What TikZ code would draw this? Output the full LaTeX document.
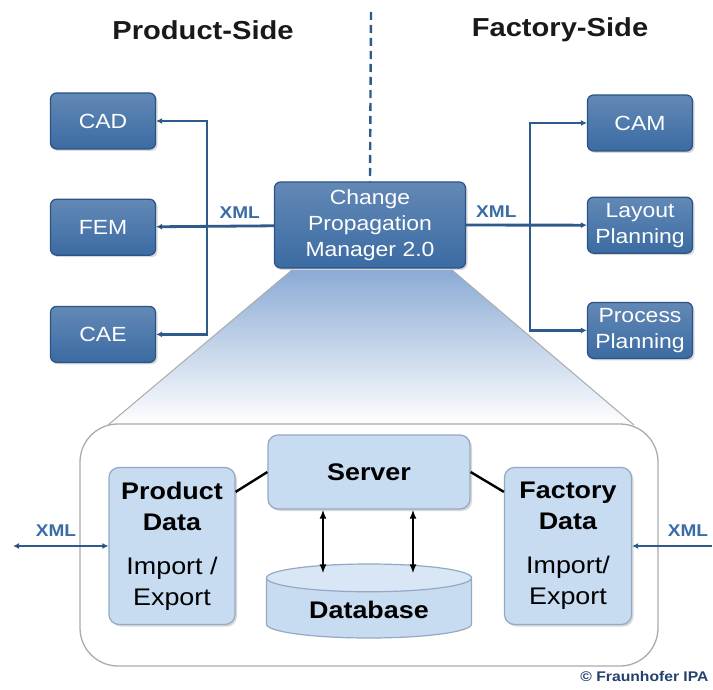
\documentclass[tikz,border=0pt]{standalone}
\usepackage{fontspec}
\setmainfont{Liberation Sans}[FakeStretch=1.12]
\usetikzlibrary{arrows.meta, positioning, shapes.geometric, shadows, calc}

\definecolor{toolblue}{HTML}{3B6BA3}
\definecolor{tooledge}{HTML}{2B5386}
\definecolor{wireblue}{HTML}{2E5A8C}
\definecolor{xmlblue}{HTML}{3A6CA6}
\definecolor{partblue}{HTML}{C7DBF1}
\definecolor{partedge}{HTML}{93A9C4}
\definecolor{wedgeblue}{HTML}{8BABD5}
\definecolor{framegray}{HTML}{ABABAB}
\definecolor{creditblue}{HTML}{23406E}

\tikzset{
  tool/.style={rectangle, rounded corners=6pt, draw=tooledge, line width=1.2pt,
    top color=toolblue!80!white, bottom color=toolblue, text=white, align=center,
    minimum width=105pt, minimum height=56pt, inner sep=2pt,
    font=\fontsize{20.5}{26}\selectfont,
    drop shadow={opacity=0.3, shadow xshift=2pt, shadow yshift=-2pt}},
  part/.style={rectangle, rounded corners=10pt, draw=partedge, line width=1.2pt,
    fill=partblue, align=center, font=\fontsize{24}{31}\selectfont,
    drop shadow={opacity=0.3, shadow xshift=2pt, shadow yshift=-2pt}},
  store/.style={cylinder, shape border rotate=90, aspect=0.22, draw=partedge,
    line width=1.2pt, cylinder uses custom fill, cylinder body fill=partblue,
    cylinder end fill=partblue!70!white, minimum width=205pt, minimum height=74pt,
    font=\bfseries\fontsize{24}{30}\selectfont},
  wire/.style={draw=wireblue, line width=2.8pt},
  xml/.style={text=xmlblue, font=\bfseries\fontsize{17}{20}\selectfont, inner sep=1pt},
  sidetitle/.style={font=\bfseries\fontsize{26}{30}\selectfont, text=black!90},
  zoomframe/.style={draw=framegray, line width=1.3pt, fill=white, rounded corners=38pt},
  credit/.style={font=\bfseries\fontsize{14}{16}\selectfont, text=creditblue},
}

\begin{document}
\begin{tikzpicture}[x=1pt, y=-1pt, >={Latex[length=6pt, width=6pt]}]
  \useasboundingbox (0,0) rectangle (713,690);

  \node[sidetitle] (pside) at (203,30) {Product-Side};
  \node[sidetitle] (fside) at (560,30) {Factory-Side};

  % zoom wedge and frame
  \shade[top color=wedgeblue, bottom color=white] (292,270) -- (452,270) -- (634,425) -- (108,425) -- cycle;
  \draw[framegray, line width=1pt] (292,270) -- (108,425) (452,270) -- (634,425);
  \draw[zoomframe] (80,424) rectangle (658,666);

  % top level
  \node[tool, minimum width=191pt, minimum height=86pt] (cpm) at (370,225) {Change\\Propagation\\Manager 2.0};

  \node[tool]                    (cad)     at (103,121) {CAD};
  \node[tool, below=49pt of cad] (fem)                  {FEM};
  \node[tool, below=50pt of fem] (cae)                  {CAE};

  \node[tool]                       (cam)     at (640,123) {CAM};
  \node[tool, below=45pt of cam]    (layout)               {Layout\\Planning};
  \node[tool, below=48pt of layout] (process)              {Process\\Planning};

  \coordinate (dtop) at (371,12);
  \coordinate (lbus) at (207,225);
  \coordinate (rbus) at (530,225);

  \draw[wire, line width=2.4pt, dash pattern=on 8pt off 5pt] (dtop) -- (cpm.north);

  \path[wire, ->] (cpm) edge node[xml, above=5pt, pos=0.29] {XML} (fem);
  \draw[wire, ->] (lbus) |- (cad);
  \draw[wire, ->] (lbus) |- (cae);
  \path[wire, ->] (cpm) edge node[xml, above=5pt, pos=0.25] {XML} (layout);
  \draw[wire, ->] (rbus) |- (cam);
  \draw[wire, ->] (rbus) |- (process);

  % inside the manager
  \node[part, minimum width=202pt, minimum height=74pt]  (srv)  at (369,472) {\textbf{Server}};
  \node[part, minimum width=126pt, minimum height=157pt] (pdat) at (172,546) {\textbf{Product}\\\textbf{Data}\\[13pt]Import /\\Export};
  \node[part, minimum width=127pt, minimum height=157pt] (fdat) at (568,546) {\textbf{Factory}\\\textbf{Data}\\[13pt]Import/\\Export};
  \node[store] (db) at (369,610) {Database};

  \draw[line width=2.4pt] (pdat.north east) ++(0,25) -- (srv.west);
  \draw[line width=2.4pt] (srv.east) -- ($(fdat.north west)+(0,25)$);
  \draw[<->, line width=2pt, >={Latex[length=9pt, width=7pt]}] ($(srv.south)+(-46,0)$) -- ($(db.north)+(-46,10)$);
  \draw[<->, line width=2pt, >={Latex[length=9pt, width=7pt]}] ($(srv.south)+(44,0)$) -- ($(db.north)+(44,10)$);

  \coordinate (lout) at (13,546);
  \coordinate (rout) at (712,546);
  \path[wire, line width=2.4pt, <->] (pdat) edge node[xml, above=7pt, pos=0.55] {XML} (lout);
  \draw[wire, line width=2.4pt, ->] (rout) -- node[xml, above=7pt, pos=0.3] {XML} (fdat);

  \node[credit, anchor=east] (ipa) at (712,676) {© Fraunhofer IPA};
\end{tikzpicture}
\end{document}
